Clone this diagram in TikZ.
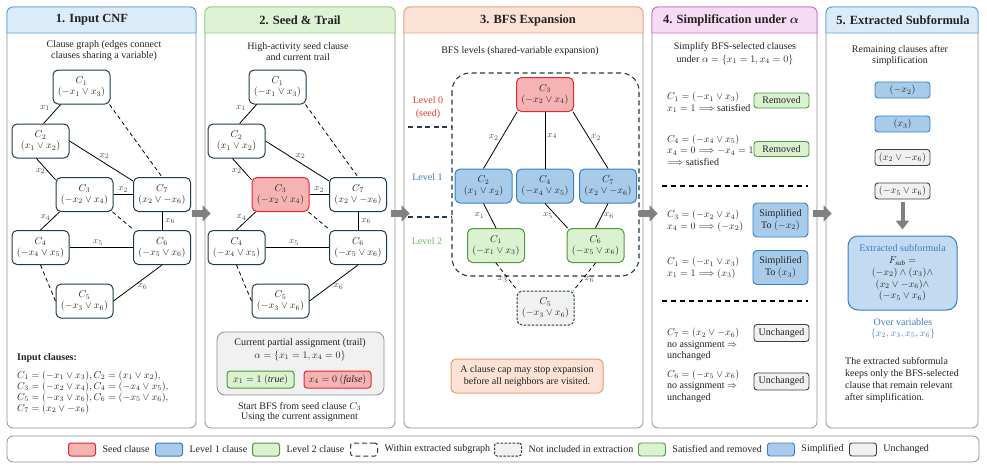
\documentclass[tikz,border=0pt]{standalone}
\usepackage{fontspec}
\setmainfont{Liberation Serif}
\usepackage{amsmath}
\usepackage{tikz}
\usetikzlibrary{arrows.meta, positioning}
\definecolor{navy}{HTML}{1F3B4D}
\definecolor{ink}{HTML}{222222}
\definecolor{lblgray}{HTML}{4A4A4A}
\definecolor{seedfill}{HTML}{F6B3B3}
\definecolor{seeddraw}{HTML}{E8262E}
\definecolor{lvlonefill}{HTML}{A9CBEA}
\definecolor{lvlonedraw}{HTML}{3580C6}
\definecolor{lvltwofill}{HTML}{DAF2D0}
\definecolor{lvltwodraw}{HTML}{4E9A3C}
\definecolor{boxgray}{HTML}{F1F1F1}
\definecolor{framegray}{HTML}{8E8E8E}
\definecolor{arrowgray}{HTML}{808080}
\definecolor{hdrblue}{HTML}{DCEBF8}
\definecolor{hdrbluedraw}{HTML}{56A6E6}
\definecolor{hdrgreen}{HTML}{DDF3D4}
\definecolor{hdrgreendraw}{HTML}{96D67F}
\definecolor{hdrorange}{HTML}{FBE2D4}
\definecolor{hdrorangedraw}{HTML}{F1A37C}
\definecolor{hdrpink}{HTML}{F7DAF4}
\definecolor{hdrpinkdraw}{HTML}{D46BCF}
\definecolor{notefill}{HTML}{FCE3D6}
\definecolor{notedraw}{HTML}{F09868}
\definecolor{subfill}{HTML}{C3DBF1}
\definecolor{textred}{HTML}{E53935}
\definecolor{textblue}{HTML}{3D7EC0}
\definecolor{textgreen}{HTML}{6DBE5B}

\begin{document}
\begin{tikzpicture}[x=1pt, y=-1pt, font=\fontsize{10}{11}\selectfont, text=ink,
    panel/.style={draw=framegray, line width=0.8pt, rounded corners=6pt, inner sep=0pt},
    clause/.style={draw=navy, fill=white, line width=1pt, rounded corners=5pt, minimum width=57pt, minimum height=34pt, inner sep=1pt, align=center},
    seedclause/.style={clause, draw=seeddraw, fill=seedfill},
    lvlone/.style={clause, draw=lvlonedraw, fill=lvlonefill},
    lvltwo/.style={clause, draw=lvltwodraw, fill=lvltwofill},
    outclause/.style={clause, fill=boxgray, dash pattern=on 2.5pt off 1.5pt},
    within/.style={clause, dash pattern=on 5pt off 3pt},
    link/.style={line width=0.8pt, draw=black},
    gaplink/.style={link, dash pattern=on 4pt off 3pt},
    edgelbl/.style={font=\fontsize{9.5}{10}\selectfont, text=lblgray, inner sep=1pt},
    badge/.style={line width=0.9pt, rounded corners=3pt, minimum width=55pt, inner sep=1pt, align=center},
    removed/.style={badge, draw=lvltwodraw, fill=lvltwofill, minimum height=15pt},
    simpl/.style={badge, draw=lvlonedraw, fill=lvlonefill, rounded corners=4pt, font=\fontsize{10}{12}\selectfont},
    unchg/.style={badge, draw=darkgray, fill=boxgray, minimum height=17pt},
    rowtext/.style={anchor=west, align=left, inner sep=0pt, font=\fontsize{10}{11.5}\selectfont},
    divider/.style={line width=1.1pt, dash pattern=on 5pt off 4pt},
    bigarrow/.style={arrowgray, line width=7pt, -{Triangle[length=8pt, width=16pt]}},
]
\useasboundingbox (0,0) rectangle (987,466);

% panels with coloured headers
\foreach \i/\xa/\xb/\tx/\hf/\hd/\ttl in {1/7/196/92/hdrblue/hdrbluedraw/{1. Input CNF}, 2/205/395/300/hdrgreen/hdrgreendraw/{2. Seed \& Trail}, 3/404/643/528/hdrorange/hdrorangedraw/{3. BFS Expansion}, 4/652/817/731/hdrpink/hdrpinkdraw/{4. Simplification under $\boldsymbol{\alpha}$}, 5/826/978/903/hdrblue/hdrbluedraw/{5. Extracted Subformula}} {
    \node[panel, minimum width=\xb-\xa, minimum height=421] (p\i) at ({(\xa+\xb)/2}, 217.5) {};
    \filldraw[fill=\hf, draw=\hd, line width=0.9pt] (\xa,33) -- (\xa,13) arc[start angle=180, end angle=270, radius=6] -- (\xb-6,7) arc[start angle=270, end angle=360, radius=6] -- (\xb,33) -- cycle;
    \node[font=\fontsize{12.5}{14}\selectfont\bfseries] (title\i) at (\tx, 20) {\ttl};
}

% panel 1
\node[align=center] (cap1) at (104, 51) {Clause graph (edges connect\\clauses sharing a variable)};

% clause graph (panel 1, and again in panel 2 with the seed marked)
\foreach \p/\dx in {in/0, sd/196} {
    \foreach \n/\gx/\gy/\lit in {1/81.5/87/{-x_1 \lor x_3}, 2/40.5/141/{x_1 \lor x_2}, 3/84.5/194.5/{-x_2 \lor x_4}, 4/40.5/247.5/{-x_4 \lor x_5}, 5/84.5/301/{-x_3 \lor x_6}, 6/162/247.5/{-x_5 \lor x_6}, 7/162/194.5/{x_2 \lor -x_6}} {
        \def\cf{white}\def\cd{navy}
        \ifnum\n=3 \ifnum\dx>0 \def\cf{seedfill}\def\cd{seeddraw}\fi\fi
        \node[clause, fill=\cf, draw=\cd] (\p\n) at (\gx+\dx, \gy) {$C_{\n}$\\$(\lit)$};
    }
    \draw[link] (\p1.220) -- node[edgelbl, pos=.2, left=6pt] {$x_1$} (\p2.80);
    \draw[link] (\p2.257) -- node[edgelbl, pos=.6, left=1pt] {$x_2$} (\p3.153);
    \draw[link] (\p2.east) -- node[edgelbl, pos=.55, above=3pt] {$x_2$} (\p7.155);
    \draw[link] (\p3.east) -- node[edgelbl, midway, above=1pt] {$x_2$} (\p7.west);
    \draw[link] (\p3.215) -- node[edgelbl, pos=.3, left=2pt] {$x_4$} (\p4.north);
    \draw[link] (\p7.south) -- node[edgelbl, midway, right=2pt] {$x_6$} (\p6.north);
    \draw[link] (\p4.east) -- node[edgelbl, pos=.45, above=1pt] {$x_5$} (\p6.west);
    \draw[link] (\p6.south) -- node[edgelbl, pos=.4, below=3pt] {$x_6$} (\p5.east);
    \draw[gaplink] (\p1.328) -- (\p7.north);
    \draw[gaplink] (\p3.328) -- (\p6.148);
    \draw[gaplink] (\p4.south) -- (\p5.west);
}

\node[anchor=west, inner sep=0pt, font=\fontsize{10}{11}\selectfont\bfseries] (inhead) at (17, 358) {Input clauses:};
\node[anchor=west, inner sep=0pt, align=left, font=\fontsize{10}{11}\selectfont] (inlist) at (17, 392) {$C_1 = (-x_1 \lor x_3), C_2 = (x_1 \lor x_2),$\\$C_3 = (-x_2 \lor x_4), C_4 = (-x_4 \lor x_5),$\\$C_5 = (-x_3 \lor x_6), C_6 = (-x_5 \lor x_6),$\\$C_7 = (x_2 \lor -x_6)$};

% panel 2
\node[align=center] (cap2) at (298, 52) {High-activity seed clause\\and current trail};
\node[panel, fill=boxgray, minimum width=167, minimum height=63, rounded corners=8pt] (trail) at (300.5, 363.5) {};
\node[align=center, font=\fontsize{10}{13}\selectfont] (trailtxt) at (300, 349.5) {Current partial assignment (trail)\\$\alpha = \{x_1 = 1, x_4 = 0\}$};
\node[clause, draw=lvltwodraw, fill=lvltwofill, minimum width=67, minimum height=17, rounded corners=3pt] (setone) at (260.5, 379.5) {$x_1 = 1\ (\mathit{true})$};
\node[clause, draw=seeddraw, fill=seedfill, minimum width=67, minimum height=17, rounded corners=3pt] (setfour) at (337.5, 379.5) {$x_4 = 0\ (\mathit{false})$};
\node[align=center, font=\fontsize{10}{10.5}\selectfont] (bfsnote) at (299.5, 412) {Start BFS from seed clause $C_3$\\Using the current assignment};

% panel 3
\node (cap3) at (520, 51) {BFS levels (shared-variable expansion)};
\draw[navy, line width=1.1pt, dash pattern=on 5pt off 3.5pt, rounded corners=18pt] (452,73) rectangle (639,276);
\draw[navy, line width=1.1pt, dash pattern=on 5pt off 3.5pt] (408,127) -- (452,127) (408,217) -- (452,217);
\node[text=textred, align=center, font=\fontsize{10}{13}\selectfont] (lvl0) at (428, 107.5) {Level 0\\(seed)};
\node[text=textblue] (lvl1) at (427.5, 177) {Level 1};
\node[text=textgreen] (lvl2) at (427, 241) {Level 2};

\node[seedclause] (bfs3) at (545, 94.5) {$C_3$\\$(-x_2 \lor x_4)$};
\node[lvlone] (bfs2) at (483.5, 186) {$C_2$\\$(x_1 \lor x_2)$};
\node[lvlone] (bfs4) at (545, 186) {$C_4$\\$(-x_4 \lor x_5)$};
\node[lvlone] (bfs7) at (608, 186) {$C_7$\\$(x_2 \lor -x_6)$};
\node[lvltwo] (bfs1) at (496, 245.5) {$C_1$\\$(-x_1 \lor x_3)$};
\node[lvltwo] (bfs6) at (595.5, 245.5) {$C_6$\\$(-x_5 \lor x_6)$};
\node[outclause] (bfs5) at (545.5, 308) {$C_5$\\$(-x_3 \lor x_6)$};

\draw[link] (bfs3.212) -- node[edgelbl, pos=.45, left=2pt] {$x_2$} (bfs2.north);
\draw[link] (bfs3.south) -- node[edgelbl, pos=.43, right=1pt] {$x_4$} (bfs4.north);
\draw[link] (bfs3.328) -- node[edgelbl, pos=.45, right=1pt] {$x_2$} (bfs7.north);
\draw[link] (bfs2.south) -- node[edgelbl, pos=.5, left=4pt] {$x_1$} (bfs1.north);
\draw[link] (bfs4.south) -- node[edgelbl, pos=.5, left=2pt] {$x_5$} (bfs6.148);
\draw[link] (bfs7.south) -- node[edgelbl, pos=.5, right=1pt] {$x_6$} (bfs6.north);
\draw[gaplink] (bfs1.south) -- node[edgelbl, pos=.6, left=0pt] {$x_3$} (bfs5.148);
\draw[gaplink] (bfs6.south) -- node[edgelbl, pos=.6, right=1pt] {$x_6$} (bfs5.32);

\node[draw=notedraw, fill=notefill, line width=1pt, rounded corners=5pt, minimum width=152, minimum height=34, align=center, font=\fontsize{10}{12}\selectfont] (capnote) at (527, 376) {A clause cap may stop expansion\\before all neighbors are visited.};

% panel 4
\node[align=center, font=\fontsize{10}{12.5}\selectfont] (cap4) at (735, 53.5) {Simplify BFS-selected clauses\\under $\alpha = \{x_1 = 1, x_4 = 0\}$};
\node[rowtext] (row1) at (667, 102.5) {$C_1 = (-x_1 \lor x_3)$\\$x_1 = 1 \Longrightarrow$ satisfied};
\node[removed] (tag1) at (781.5, 100.5) {Removed};
\node[rowtext] (row2) at (667, 150) {$C_4 = (-x_4 \lor x_5)$\\$x_4 = 0 \Longrightarrow -x_4 = 1$\\$\Longrightarrow$ satisfied};
\node[removed] (tag2) at (781.5, 149) {Removed};
\draw[divider] (662,186) -- (808,186);
\node[rowtext] (row3) at (667, 221) {$C_3 = (-x_2 \lor x_4)$\\$x_4 = 0 \Longrightarrow (-x_2)$};
\node[simpl, minimum height=34] (tag3) at (780.5, 220) {Simplified\\To $(-x_2)$};
\node[rowtext] (row4) at (667, 268) {$C_1 = (-x_1 \lor x_3)$\\$x_1 = 1 \Longrightarrow (x_3)$};
\node[simpl, minimum height=34] (tag4) at (780.5, 267.5) {Simplified\\To $(x_3)$};
\draw[divider] (662,301) -- (808,301);
\node[rowtext] (row5) at (667, 344.5) {$C_7 = (x_2 \lor -x_6)$\\no assignment $\Rightarrow$\\unchanged};
\node[unchg] (tag5) at (781.5, 333) {Unchanged};
\node[rowtext] (row6) at (667, 386) {$C_6 = (-x_5 \lor x_6)$\\no assignment $\Rightarrow$\\unchanged};
\node[unchg] (tag6) at (781.5, 381.5) {Unchanged};

% panel 5
\node[align=center] (cap5) at (900, 56) {Remaining clauses after\\simplification};
\node[simpl, minimum height=16, rounded corners=3pt] (rem1) at (902.5, 90) {$(-x_2)$};
\node[simpl, minimum height=16, rounded corners=3pt] (rem2) at (902.5, 124) {$(x_3)$};
\node[unchg, minimum height=16] (rem3) at (902.5, 157.5) {$(x_2 \lor -x_6)$};
\node[unchg, minimum height=16] (rem4) at (902.5, 191) {$(-x_5 \lor x_6)$};
\node[draw=lvlonedraw, fill=subfill, line width=1pt, rounded corners=10pt, minimum width=109, minimum height=74, align=center, font=\fontsize{10}{11.75}\selectfont] (sub) at (902.5, 273) {\textcolor{textblue}{Extracted subformula}\\$F_{\mathit{sub}} =$\\$(-x_2) \land (x_3) \land$\\$(x_2 \lor -x_6) \land$\\$(-x_5 \lor x_6)$};
\draw[arrowgray, line width=4pt, -{Triangle[length=9pt, width=13pt]}, shorten <=3pt, shorten >=6pt] (rem4.south) -- (sub.north);
\node[text=textblue, align=center] (vars) at (903, 328.5) {Over variables\\$\{x_2, x_3, x_5, x_6\}$};
\node[anchor=west, align=left, inner sep=0pt, font=\fontsize{10}{12}\selectfont] (expl) at (845, 380) {The extracted subformula\\keeps only the BFS-selected\\clause that remain relevant\\after simplification.};

% arrows between panels
\foreach \a/\b in {1/2, 2/3, 3/4, 4/5}
    \draw[bigarrow, shorten <=-4pt, shorten >=-6pt] ([yshift=4pt]p\a.east) -- ([yshift=4pt]p\b.west);

% legend
\node[panel, minimum width=972, minimum height=26] (legend) at (493, 449) {};
\foreach \lx/\st/\txt in {68/seedclause/Seed clause, 155/lvlone/Level 1 clause, 252/lvltwo/Level 2 clause, 350/within/Within extracted subgraph, 494/outclause/Not included in extraction, 638/removed/Satisfied and removed, 767/simpl/Simplified, 849/unchg/Unchanged} {
    \node[\st, minimum width=27, minimum height=13, rounded corners=2.5pt, anchor=west] (key\lx) at (\lx, 449.5) {};
    \node[right=3pt of key\lx] (keytxt\lx) {\txt};
}
\end{tikzpicture}
\end{document}
